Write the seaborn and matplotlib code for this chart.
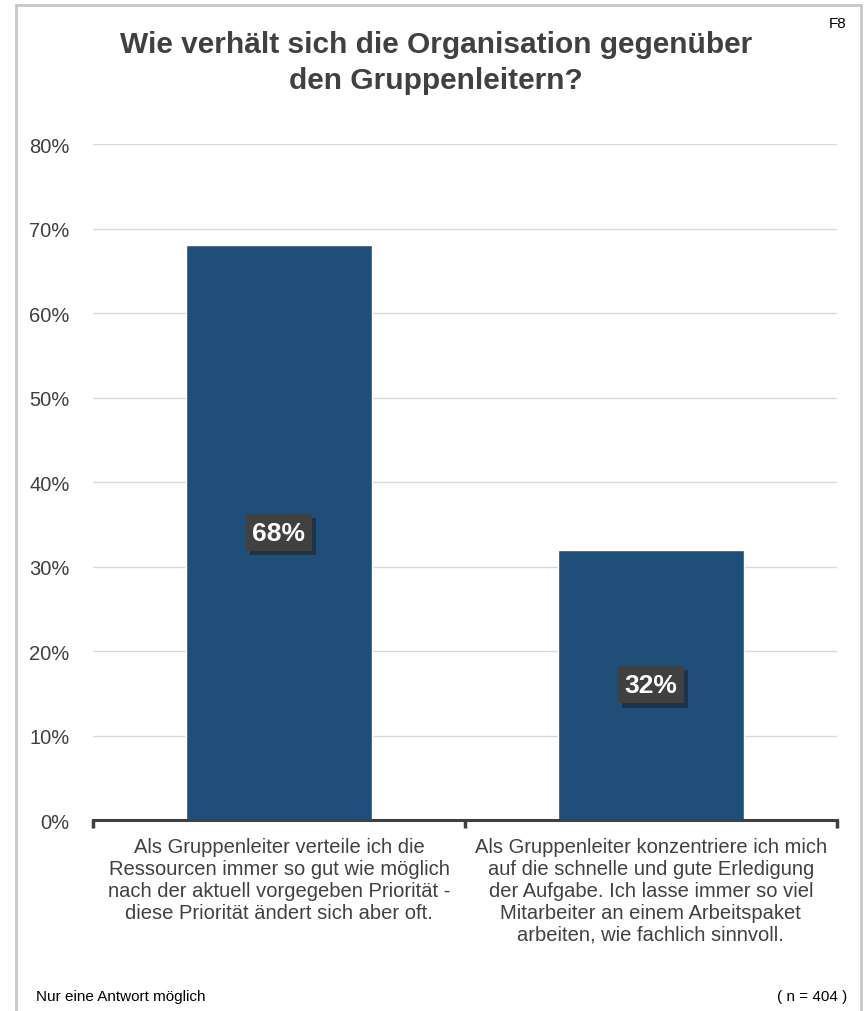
import matplotlib
matplotlib.use("Agg")
import matplotlib.pyplot as plt
import matplotlib.patches as mpatches
import matplotlib.patheffects as pe
import seaborn as sns
import pandas as pd

# ── Data ───────────────────────────────────────────────────────────────────────

categories = [
    "Als Gruppenleiter verteile ich die\nRessourcen immer so gut wie möglich\nnach der aktuell vorgegeben Priorität -\ndiese Priorität ändert sich aber oft.",
    "Als Gruppenleiter konzentriere ich mich\nauf die schnelle und gute Erledigung\nder Aufgabe. Ich lasse immer so viel\nMitarbeiter an einem Arbeitspaket\narbeiten, wie fachlich sinnvoll.",
]
values = [68, 32]
value_labels = ["68%", "32%"]
y_ticks = [0, 10, 20, 30, 40, 50, 60, 70, 80]

title = "Wie verhält sich die Organisation gegenüber\nden Gruppenleitern?"
footer_left = "Nur eine Antwort möglich"
footer_right = "( n = 404 )"
page_code = "F8"

df = pd.DataFrame({"category": categories, "value": values})

# ── Style ──────────────────────────────────────────────────────────────────────

sns.set_style("white")
plt.rcParams["font.family"] = ["Liberation Sans", "DejaVu Sans"]
TEXT = "#404040"
BAR = "#1f4e79"

fig = plt.figure(figsize=(8.65, 10.12), dpi=100)
ax = fig.add_axes([0.1075, 0.1887, 0.86, 0.668])

sns.barplot(data=df, x="category", y="value", color=BAR, width=0.5,
            saturation=1, ax=ax)

ax.set_ylim(0, 80)
ax.set_xlim(-0.5, 1.5)
ax.set_yticks(y_ticks)
ax.set_yticklabels([f"{t}%" for t in y_ticks], fontsize=14.5, color=TEXT)
ax.yaxis.grid(True, color="#d9d9d9", linewidth=1)
ax.set_axisbelow(True)
ax.set_xlabel("")
ax.set_ylabel("")
ax.tick_params(axis="y", length=0, pad=17)

# category labels + boundary ticks
ax.set_xticks([0, 1])
ax.set_xticklabels(categories, fontsize=14.5, color=TEXT, linespacing=1.2)
ax.tick_params(axis="x", which="major", length=0, pad=12)
ax.set_xticks([-0.5, 0.5, 1.5], minor=True)
ax.tick_params(axis="x", which="minor", bottom=True, length=6, width=2.5,
               color="#404040")

for side in ["top", "right", "left"]:
    ax.spines[side].set_visible(False)
ax.spines["bottom"].set_color("#404040")
ax.spines["bottom"].set_linewidth(2.2)

# value labels in dark boxes
for i, (v, lab) in enumerate(zip(values, value_labels)):
    ax.text(i, v / 2, lab, ha="center", va="center", fontsize=19,
            fontweight="bold", color="white",
            bbox=dict(boxstyle="square,pad=0.25", facecolor="#404040",
                      edgecolor="none",
                      path_effects=[pe.withSimplePatchShadow(offset=(3, -3),
                                                             shadow_rgbFace="#1a1a1a",
                                                             alpha=0.5)]))

# ── Frame, title, footer ───────────────────────────────────────────────────────

frame = mpatches.Rectangle((16 / 865, -0.05), (861 - 16) / 865, 1.05 - 6 / 1012,
                           transform=fig.transFigure, fill=False,
                           edgecolor="#c8c8c8", linewidth=2)
fig.patches.append(frame)

fig.text(436 / 865, 1 - 63 / 1012, title, ha="center", va="center",
         fontsize=21.5, fontweight="bold", color=TEXT, linespacing=1.35)
fig.text(846 / 865, 1 - 24 / 1012, page_code, ha="right", va="center",
         fontsize=11, color="black")
fig.text(36 / 865, 1 - 997 / 1012, footer_left, ha="left", va="center",
         fontsize=11, color="black")
fig.text(847 / 865, 1 - 997 / 1012, footer_right, ha="right", va="center",
         fontsize=11, color="black")

fig.savefig("out.png", dpi=100)
